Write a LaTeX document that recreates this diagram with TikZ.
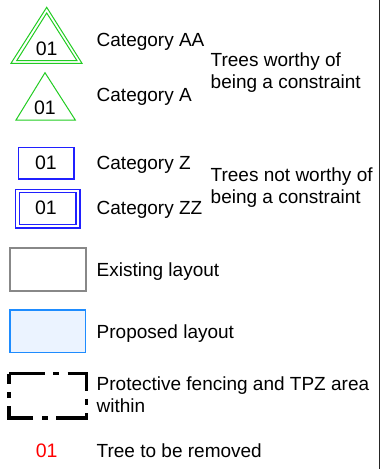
\documentclass[tikz,border=0pt]{standalone}
\usepackage{fontspec}
\setmainfont{Liberation Sans}
\definecolor{tgreen}{HTML}{22CC22}
\definecolor{tblue}{HTML}{2020FF}
\definecolor{egray}{HTML}{888888}
\definecolor{pblue}{HTML}{1E8CFF}
\definecolor{pfill}{HTML}{EBF3FF}
\definecolor{tred}{HTML}{FF0000}
\begin{document}
\begin{tikzpicture}[x=1pt,y=-1pt,
  lbl/.style={anchor=base west,inner sep=0pt,font=\fontsize{19}{21}\selectfont,align=left},
  num/.style={anchor=base,inner sep=0pt,font=\fontsize{19.5}{21}\selectfont},
  tri/.style={draw=tgreen,line width=1pt,line join=miter},
  zbox/.style={draw=tblue,line width=1.3pt},
  fence/.style={draw=black,line width=3.3pt,line cap=butt,dash pattern=on 36pt off 8pt on 6pt off 8.5pt}]
\useasboundingbox (0,0) rectangle (382,469);
% right border line
\draw[line width=1pt,black!85] (379,0) -- (379,469);
% Category AA
\draw[tri] (11,63.3) -- (82,63.3) -- (46.7,7.3) -- cycle;
\draw[tri] (16.7,60.7) -- (77,60.7) -- (46.7,13) -- cycle;
\node[num] (naa) at (46.7,55) {01};
\node[lbl] (caa) at (96.5,46.7) {Category AA};
% Category A
\draw[tri] (16,120) -- (75.3,120) -- (45,72.7) -- cycle;
\node[num] (na) at (45,114.3) {01};
\node[lbl] (ca) at (96.5,101.7) {Category A};
% worthy
\node[lbl] (w1) at (210.5,66.7) {Trees worthy of};
\node[lbl] (w2) at (210.5,88) {being a constraint};
% Category Z
\draw[zbox] (18.3,147.3) rectangle (74,179);
\node[num] (nz) at (46,169.3) {01};
\node[lbl] (cz) at (96.5,169.3) {Category Z};
% Category ZZ
\draw[zbox] (15.7,189.3) rectangle (80,228);
\draw[zbox] (19.3,192.7) rectangle (76,224.7);
\node[num] (nzz) at (46,214.3) {01};
\node[lbl] (czz) at (96.5,214.3) {Category ZZ};
% not worthy
\node[lbl] (nw1) at (210.5,181.7) {Trees not worthy of};
\node[lbl] (nw2) at (210.5,203.3) {being a constraint};
% Existing layout
\draw[draw=egray,line width=2pt] (10,248.3) rectangle (85.5,291);
\node[lbl] (ex) at (96.5,276) {Existing layout};
% Proposed layout
\draw[draw=pblue,fill=pfill,line width=1.8pt] (10,310) rectangle (85.5,352.5);
\node[lbl] (pr) at (96.5,338.3) {Proposed layout};
% Protective fencing
\draw[fence] (9,373.5) -- (86.5,373.5) -- (86.5,418) -- (9,418) -- cycle;
\node[lbl] (pf1) at (96.5,390.7) {Protective fencing and TPZ area};
\node[lbl] (pf2) at (96.5,412.7) {within};
% Tree removed
\node[num,text=tred] (nr) at (46.7,457.7) {01};
\node[lbl] (tr) at (96.5,457.7) {Tree to be removed};
\end{tikzpicture}
\end{document}
